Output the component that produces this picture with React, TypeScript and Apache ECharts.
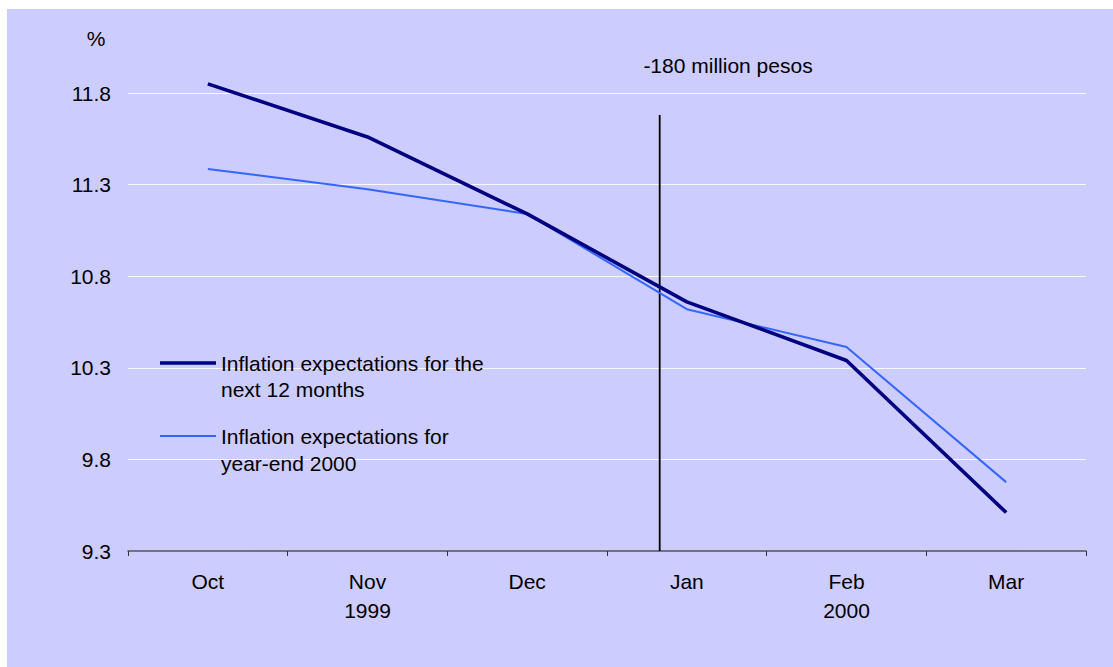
import React, { useEffect, useRef } from "react";
import * as echarts from "echarts";

const months = ["Oct", "Nov", "Dec", "Jan", "Feb", "Mar"];
const yearLabels = ["", "1999", "", "", "2000", ""];
const next12Months = [11.85, 11.56, 11.14, 10.66, 10.34, 9.51];
const yearEnd2000 = [11.385, 11.275, 11.14, 10.62, 10.414, 9.676];
const seriesNames = [
  "Inflation expectations for the next 12 months",
  "Inflation expectations for year-end 2000",
];
const legendLabels = [
  "Inflation expectations for the\nnext 12 months",
  "Inflation expectations for\nyear-end 2000",
];
const yTickLabels = ["9.3", "9.8", "10.3", "10.8", "11.3", "11.8"];
const yMin = 9.3;
const yMax = 11.8;
const policyLine = [
  [2.83, 9.3],
  [2.83, 11.68],
];
const policyLabel = "-180 million pesos";

const FONT = "Arial, 'Liberation Sans', sans-serif";
const DARK = "#000080";
const LIGHT = "#3366ff";

export default function App() {
  const ref = useRef<HTMLDivElement>(null);
  useEffect(() => {
    document.body.style.margin = "0";
    document.body.style.overflow = "hidden";
    if (!ref.current) return;
    const chart = echarts.init(ref.current, undefined, { renderer: "svg" });
    const legendCommon = {
      orient: "vertical",
      left: 153,
      padding: 0,
      itemWidth: 56,
      icon: "rect",
      formatter: (name: string) => "\n" + legendLabels[seriesNames.indexOf(name)],
      textStyle: {
        fontFamily: FONT,
        fontSize: 21,
        color: "#000",
        lineHeight: 27,
      },
    };
    chart.setOption({
      animation: false,
      backgroundColor: "#ccccff",
      textStyle: { fontFamily: FONT },
      grid: { left: 121, right: 27, top: 84, bottom: 116, containLabel: false },
      legend: [
        { ...legendCommon, top: 313.5, itemHeight: 3.6, data: [seriesNames[0]] },
        { ...legendCommon, top: 386.5, itemHeight: 2, data: [seriesNames[1]] },
      ],
      xAxis: [
        {
          type: "category",
          data: months,
          boundaryGap: true,
          axisLine: { lineStyle: { color: "#555", width: 1.5 } },
          axisTick: { show: true, length: 5, lineStyle: { color: "#333", width: 1 } },
          axisLabel: {
            fontFamily: FONT,
            fontSize: 21,
            color: "#000",
            lineHeight: 29,
            margin: 16,
            formatter: (v: string, i: number) =>
              yearLabels[i] ? v + "\n" + yearLabels[i] : v,
          },
          splitLine: { show: false },
        },
        { type: "value", min: -0.5, max: 5.5, show: false },
      ],
      yAxis: [
        { type: "value", min: yMin, max: yMax, show: false },
        {
          type: "value",
          position: "left",
          min: 0,
          max: yMax - yMin,
          interval: 0.5,
          axisLine: { show: false },
          axisTick: { show: false },
          axisLabel: {
            fontFamily: FONT,
            fontSize: 21,
            color: "#000",
            margin: 17,
            formatter: (v: number) => yTickLabels[Math.round(v / 0.5)],
          },
          splitLine: {
            show: true,
            showMinLine: false,
            lineStyle: { color: "#ffffff", width: 1.2, opacity: 0.85 },
          },
        },
      ],
      graphic: [
        {
          type: "text",
          x: 89,
          y: 29,
          style: {
            text: "%",
            fontFamily: FONT,
            fontSize: 21,
            fill: "#000",
            align: "center",
            verticalAlign: "middle",
          },
        },
        {
          type: "text",
          x: 721,
          y: 56,
          style: {
            text: policyLabel,
            fontFamily: FONT,
            fontSize: 21,
            fill: "#000",
            align: "center",
            verticalAlign: "middle",
          },
        },
      ],
      series: [
        {
          name: "policy",
          type: "line",
          xAxisIndex: 1,
          yAxisIndex: 0,
          data: policyLine,
          showSymbol: false,
          symbol: "none",
          silent: true,
          clip: false,
          lineStyle: { color: "#000", width: 1.8 },
          z: 1,
        },
        {
          name: seriesNames[1],
          type: "line",
          xAxisIndex: 0,
          yAxisIndex: 0,
          data: yearEnd2000,
          symbol: "none",
          showSymbol: false,
          clip: false,
          color: LIGHT,
          itemStyle: { color: LIGHT },
          lineStyle: { color: LIGHT, width: 2 },
          z: 2,
        },
        {
          name: seriesNames[0],
          type: "line",
          xAxisIndex: 0,
          yAxisIndex: 0,
          data: next12Months,
          symbol: "none",
          showSymbol: false,
          clip: false,
          color: DARK,
          itemStyle: { color: DARK },
          lineStyle: { color: DARK, width: 3.6 },
          z: 3,
        },
      ],
    });
    return () => chart.dispose();
  }, []);
  return (
    <div
      ref={ref}
      style={{ position: "absolute", left: 7, top: 9, width: 1106, height: 658 }}
    />
  );
}
